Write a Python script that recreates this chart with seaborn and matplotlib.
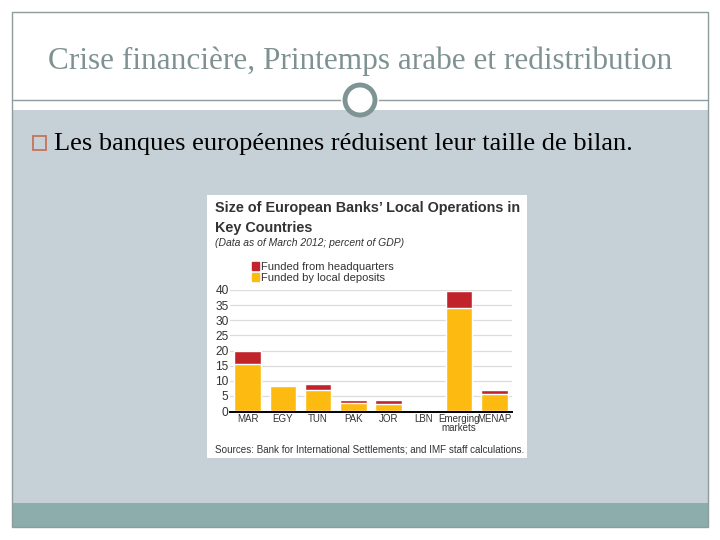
import pandas as pd
import matplotlib.pyplot as plt
import matplotlib.patches as mpatches
import seaborn as sns

# data (percent of GDP, March 2012)
countries = ["MAR", "EGY", "TUN", "PAK", "JOR", "LBN", "Emerging\nmarkets", "MENAP"]
local_deposits = [15.5, 8.2, 7.0, 2.5, 2.2, 0.2, 34.0, 5.7]
headquarters = [4.3, 0.5, 2.0, 1.0, 1.3, 0.6, 5.8, 1.3]
yticks = [0, 5, 10, 15, 20, 25, 30, 35, 40]

RED = "#c1232b"
YELLOW = "#fdbb12"
CHART_FONT = ["Liberation Sans", "DejaVu Sans"]
SLIDE_FONT = ["Liberation Serif", "DejaVu Serif"]

df = pd.DataFrame({"country": countries, "local": local_deposits, "hq": headquarters})
df["total"] = df["local"] + df["hq"]

sns.set_theme(style="white")
plt.rcParams["font.family"] = CHART_FONT

W, H = 720, 540
fig = plt.figure(figsize=(7.2, 5.4), dpi=100)


def box(x0, y0, x1, y1, **kw):
    # rectangle in pixel coords (top-left origin)
    fig.patches.append(mpatches.Rectangle((x0 / W, 1 - y1 / H), (x1 - x0) / W, (y1 - y0) / H,
                                          transform=fig.transFigure, figure=fig, zorder=-5, **kw))


def txt(x, y, s, **kw):
    fig.text(x / W, 1 - y / H, s, **kw)


# slide background
box(0, 0, 720, 540, facecolor="white", edgecolor="none")
box(12, 110, 708, 503, facecolor="#c6d1d7", edgecolor="none")
box(12, 503, 708, 527, facecolor="#8badac", edgecolor="none")
box(12, 12, 708, 527, facecolor="none", edgecolor="#8e9c9c", lw=1)
fig.lines.append(plt.Line2D([12 / W, 708 / W], [1 - 100 / H] * 2, transform=fig.transFigure,
                            color="#8e9c9c", lw=1, zorder=-4))
fig.patches.append(mpatches.Circle((360 / W, 1 - 100 / H), 19 / W, transform=fig.transFigure,
                                   facecolor="white", edgecolor="none", zorder=-3))
fig.patches.append(mpatches.Ellipse((360 / W, 1 - 100 / H), 30 / W, 30 / H, transform=fig.transFigure,
                                    facecolor="white", edgecolor="#7f9595", lw=3.5, zorder=-2))

txt(360, 61, "Crise financière, Printemps arabe et redistribution", ha="center", va="center",
    fontsize=22.5, color="#7f9191", family=SLIDE_FONT)
box(33, 136, 46, 150, facecolor="none", edgecolor="#c5735c", lw=1.3)
txt(54, 144, "Les banques européennes réduisent leur taille de bilan.", ha="left", va="center",
    fontsize=19, color="black", family=SLIDE_FONT)

# chart picture
box(207, 195, 527, 458, facecolor="white", edgecolor="none")
txt(215, 208, "Size of European Banks’ Local Operations in", ha="left", va="center",
    fontsize=10.4, fontweight="bold", color="#333333")
txt(215, 228, "Key Countries", ha="left", va="center", fontsize=10.4, fontweight="bold", color="#333333")
txt(215, 243, "(Data as of March 2012; percent of GDP)", ha="left", va="center",
    fontsize=7.5, fontstyle="italic", color="#333333")
txt(215, 450, "Sources: Bank for International Settlements; and IMF staff calculations.", ha="left",
    va="center", fontsize=7.1, color="#333333")

ax = fig.add_axes([230 / W, 1 - 411 / H, 282 / W, 121 / H])
ax.set_zorder(5)
sns.barplot(data=df, x="country", y="total", color=RED, width=0.75, saturation=1, ax=ax)
sns.barplot(data=df, x="country", y="local", color=YELLOW, width=0.75, saturation=1, ax=ax)

# spine styling first: set_position resets the tick formatting
for side in ["top", "right", "left"]:
    ax.spines[side].set_visible(False)
ax.spines["bottom"].set_position(("outward", 1.0))
ax.spines["bottom"].set_color("black")
ax.spines["bottom"].set_linewidth(1.4)

ax.set_ylim(0, 40)
ax.set_xlim(-0.5, 7.5)
ax.set_yticks(yticks)
ax.set_yticklabels([str(t) for t in yticks], fontsize=8.6, color="#333333")
ax.set_xticks(range(len(countries)))
ax.set_xticklabels(countries, fontsize=7.0, color="#333333", linespacing=0.95)
ax.tick_params(axis="both", length=0, pad=1)
ax.yaxis.grid(True, color="#dcdcdc", lw=0.9)
ax.set_axisbelow(True)
ax.set_xlabel("")
ax.set_ylabel("")
ax.patch.set_alpha(0)

handles = [mpatches.Patch(color=RED, label="Funded from headquarters"),
           mpatches.Patch(color=YELLOW, label="Funded by local deposits")]
leg = fig.legend(handles=handles, loc="upper left", bbox_to_anchor=(252 / W, 1 - 262 / H), frameon=False,
                 fontsize=8, handlelength=0.6, handleheight=0.7, handletextpad=0.2, labelspacing=0.1,
                 borderpad=0, borderaxespad=0, labelcolor="#333333")
leg.set_zorder(6)

fig.savefig("out.png", dpi=100)
